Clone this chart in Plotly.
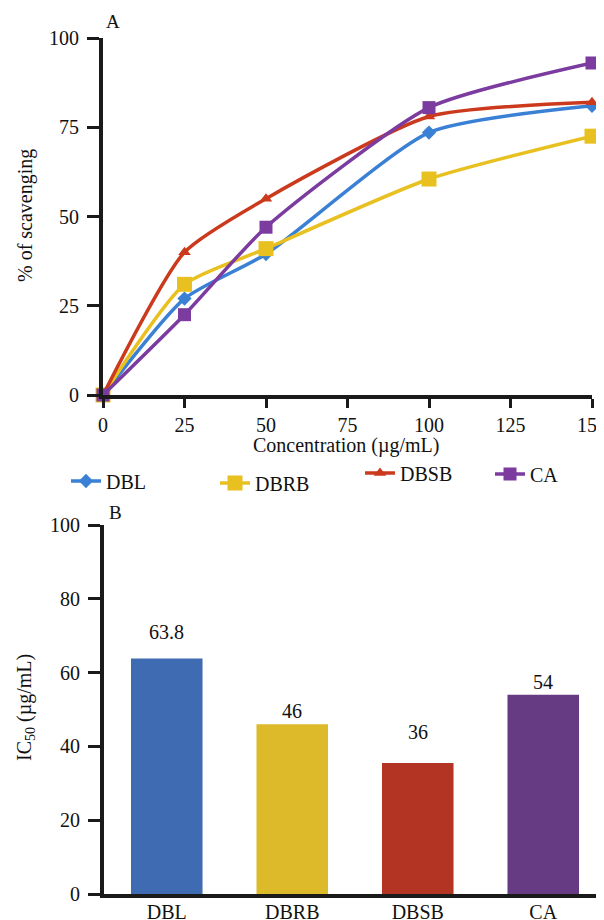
import plotly.graph_objects as go

# ---- data ----
conc = [0, 25, 50, 100, 150]
dbl = [0, 27, 39.5, 73.5, 81]
dbrb = [0, 31, 41, 60.5, 72.5]
dbsb = [0, 40, 55, 78, 82]
ca = [0, 22.5, 47, 80.5, 93]

bar_cats = ["DBL", "DBRB", "DBSB", "CA"]
ic50 = [63.8, 46, 35.5, 54]
ic50_labels = ["63.8", "46", "36", "54"]

# ---- style ----
W, H = 604, 920
OFF = 8  # page body margin
FW, FH = W, H - OFF
FONT = "Liberation Serif, Times New Roman, serif"
line_colors = ["#3a80d4", "#e8c020", "#cc3a1e", "#7b3b9f"]
bar_colors = ["#3e6bb2", "#dcba2a", "#b33423", "#673b84"]
markers = ["diamond", "square", "triangle-up", "square"]
msizes = [11, 15, 11, 13]
label_gap = [27, 13, 31, 13]
legend_px = [(66, 481), (215, 483), (360, 473), (490, 474)]

def px_x(p):
    return (p - OFF) / FW

def px_y(p):
    return 1 - (p - OFF) / FH

fig = go.Figure()
series = [("DBL", dbl), ("DBRB", dbrb), ("DBSB", dbsb), ("CA", ca)]
legend_ids = ["legend", "legend2", "legend3", "legend4"]
for i, (name, vals) in enumerate(series):
    fig.add_trace(go.Scatter(
        x=conc, y=vals, name=name, mode="lines+markers",
        line=dict(color=line_colors[i], width=3.5, shape="spline", smoothing=0.6),
        marker=dict(symbol=markers[i], size=msizes[i], color=line_colors[i]),
        cliponaxis=False, xaxis="x", yaxis="y", legend=legend_ids[i]))

fig.add_trace(go.Bar(
    x=bar_cats, y=ic50, marker=dict(color=bar_colors, line=dict(width=0)),
    width=0.57, showlegend=False, xaxis="x2", yaxis="y2"))

for i, c in enumerate(bar_cats):
    fig.add_annotation(x=c, y=ic50[i], xref="x2", yref="y2", text=ic50_labels[i],
                       showarrow=False, yanchor="middle", yshift=label_gap[i],
                       font=dict(family=FONT, size=20, color="#111"))

def axis_style(ticklen, standoff=0):
    return dict(showline=True, linecolor="#1a1a1a", linewidth=4,
                ticks="outside", tickwidth=3, ticklen=ticklen, tickcolor="#1a1a1a",
                showgrid=False, zeroline=False, automargin=False,
                ticklabeloverflow="allow", ticklabelstandoff=standoff,
                tickfont=dict(family=FONT, size=20, color="#111"))

legend_layouts = {}
for i, lid in enumerate(legend_ids):
    lx, ly = legend_px[i]
    legend_layouts[lid] = dict(orientation="h", x=px_x(lx), y=px_y(ly),
                               xanchor="left", yanchor="middle",
                               font=dict(family=FONT, size=20, color="#111"),
                               bgcolor="rgba(0,0,0,0)", itemwidth=30)

fig.update_layout(
    width=FW, height=FH,
    margin=dict(l=0, r=0, t=0, b=0, autoexpand=False),
    plot_bgcolor="white", paper_bgcolor="white",
    xaxis=dict(domain=[px_x(103), px_x(592)], range=[0, 150],
               tickvals=[0, 25, 50, 75, 100, 125, 150], anchor="y", **axis_style(9)),
    yaxis=dict(domain=[px_y(395), px_y(38)], range=[0, 100],
               tickvals=[0, 25, 50, 75, 100], anchor="x", **axis_style(12, 4)),
    xaxis2=dict(domain=[px_x(104), px_x(606)], range=[-0.5, 3.5], anchor="y2",
                showline=True, linecolor="#1a1a1a", linewidth=4, ticks="",
                ticklabelstandoff=-3,
                showgrid=False, zeroline=False, automargin=False,
                tickfont=dict(family=FONT, size=20, color="#111")),
    yaxis2=dict(domain=[px_y(894), px_y(525)], range=[0, 100],
                tickvals=[0, 20, 40, 60, 80, 100], anchor="x2", **axis_style(12, 4)),
    showlegend=True,
    **legend_layouts,
)

def label(x, y, text, size=20, angle=0):
    fig.add_annotation(x=px_x(x), y=px_y(y), xref="paper", yref="paper", text=text,
                       xanchor="center", yanchor="middle", textangle=angle,
                       showarrow=False, font=dict(family=FONT, size=size, color="#111"))

label(113, 22, "A", 19)
label(115, 512, "B", 19)
label(346, 445, "Concentration (µg/mL)")
label(25, 216, "% of scavenging", angle=-90)
label(25, 708, "IC<sub>50</sub> (µg/mL)", angle=-90)

fig.write_html("out.html")
